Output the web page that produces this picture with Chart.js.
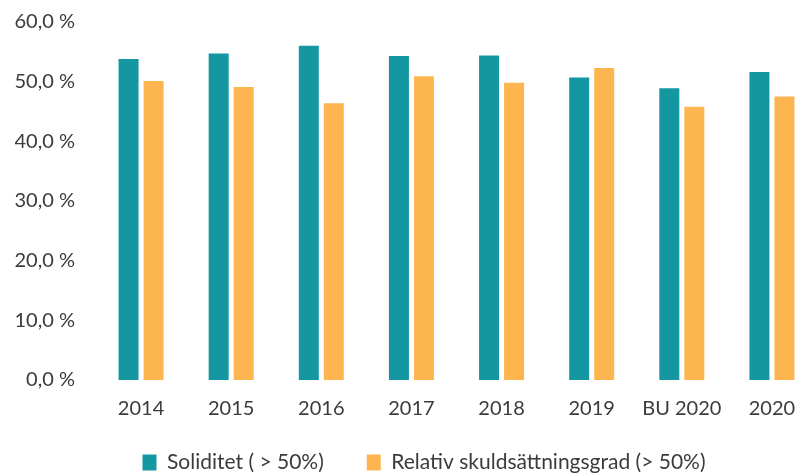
<!DOCTYPE html>
<html>
<head>
<meta charset="utf-8">
<script src="https://cdn.jsdelivr.net/npm/chart.js@4"></script>
<style>
    html, body { margin: 0; padding: 0; background: #ffffff; overflow: hidden; }
    #wrap { width: 848px; height: 473px; }
</style>
</head>
<body>
<div id="wrap"><canvas id="mychart" width="848" height="473"></canvas></div>
<script>
const labels = ['2014', '2015', '2016', '2017', '2018', '2019', 'BU 2020', '2020']
const soliditet = [53.8, 54.7, 56.0, 54.3, 54.4, 50.7, 48.9, 51.6]
const skuldsattning = [50.1, 49.1, 46.4, 50.9, 49.8, 52.3, 45.8, 47.5]
const yTicks = [0, 10, 20, 30, 40, 50, 60]

const textColor = '#3b3b3b'
const fontFamily = 'Lato, "Open Sans", sans-serif'

const chartData = {
    labels: labels,
    datasets: [
        {
            label: 'Soliditet ( > 50%)',
            data: soliditet,
            backgroundColor: '#1597a1',
            barPercentage: 0.8,
            categoryPercentage: 0.555
        },
        {
            label: 'Relativ skuldsättningsgrad (> 50%)',
            data: skuldsattning,
            backgroundColor: '#fdb64f',
            barPercentage: 0.8,
            categoryPercentage: 0.555
        }
    ]
};

// nudge the legend: up under the year labels and a bit to the right
const legendNudge = {
    id: 'legendNudge',
    afterLayout(chart) {
        const lg = chart.legend
        lg.top -= 13
        lg.bottom -= 13
        lg.left += 8
        lg.right += 8
    }
}

const ctx = document.getElementById('mychart').getContext('2d');
const mychart = new Chart(ctx, {
    type: 'bar',
    data: chartData,
    plugins: [legendNudge],
    options: {
        responsive: false,
        animation: false,
        layout: {
            autoPadding: false,
            padding: { top: 22, right: 31, bottom: -23, left: 15 }
        },
        scales: {
            x: {
                grid: { display: false, drawTicks: false },
                border: { display: false },
                ticks: {
                    color: textColor,
                    font: { family: fontFamily, size: 20 },
                    padding: 17
                },
                afterFit: (scale) => { scale.height = 42 }
            },
            y: {
                min: 0,
                max: 60,
                afterBuildTicks: (axis) => {
                    axis.ticks = yTicks.map(v => ({ value: v }))
                },
                grid: { display: false, drawTicks: false },
                border: { display: false },
                ticks: {
                    color: textColor,
                    font: { family: fontFamily, size: 20 },
                    padding: 21,
                    callback: (v) => v.toFixed(1).replace('.', ',') + ' %'
                },
                afterFit: (scale) => {
                    scale.width = 81
                    scale.paddingTop = 0
                    scale.paddingBottom = 0
                }
            }
        },
        plugins: {
            legend: {
                position: 'bottom',
                labels: {
                    color: textColor,
                    font: { family: fontFamily, size: 21 },
                    boxWidth: 14,
                    boxHeight: 16,
                    padding: 43
                }
            },
            tooltip: { enabled: false }
        }
    }
})
</script>
</body>
</html>
